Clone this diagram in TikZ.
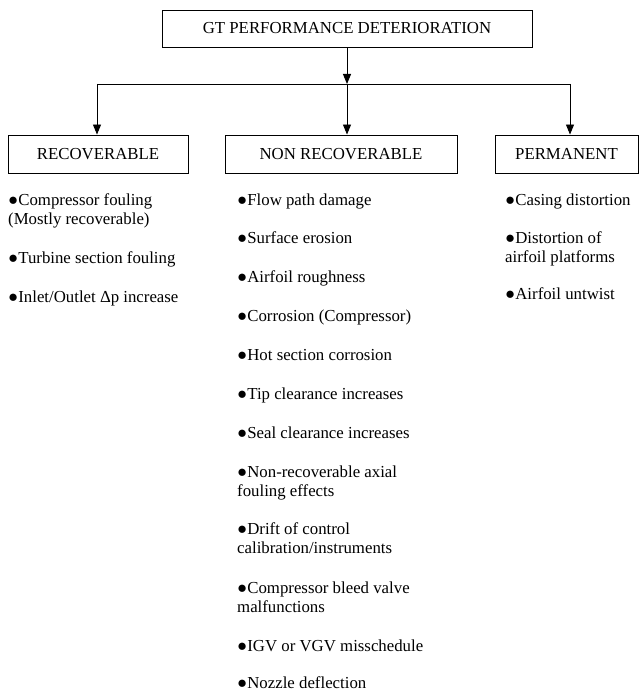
\documentclass[tikz,border=0pt]{standalone}
\usepackage{fontspec}
\setmainfont{Liberation Serif}
\usetikzlibrary{arrows.meta}
\newcommand\itm[4]{\node[item] (#1) at (#2,{#3-13.3}) {\strut●#4};}
\begin{document}
\begin{tikzpicture}[x=1pt,y=-1pt,
  box/.style={draw, line width=0.9pt, inner sep=0pt, font=\fontsize{16.8}{19}\selectfont},
  item/.style={anchor=north west, inner sep=0pt, align=left, font=\fontsize{16.8}{19}\selectfont},
  arr/.style={line width=0.9pt, -{Triangle[length=10pt,width=8pt]}},
  ln/.style={line width=0.9pt}]
\useasboundingbox (0,0) rectangle (640,692);
% boxes
\node[box, minimum width=370pt, minimum height=37pt] (top) at (347,28.5) {GT PERFORMANCE DETERIORATION};
\node[box, minimum width=180pt, minimum height=38pt] (rec) at (98,154) {RECOVERABLE};
\node[box, minimum width=232pt, minimum height=38pt] (non) at (341,154) {NON RECOVERABLE};
\node[box, minimum width=143pt, minimum height=38pt] (perm) at (566.5,154) {PERMANENT};
% connectors
\coordinate (hl) at (97,84);
\coordinate (hm) at (347,84);
\coordinate (hr) at (570,84);
\draw[arr] (top.south) -- (hm);
\draw[ln] (hl) -- (hr);
\draw[arr] (hl) -- (hl |- rec.north);
\draw[arr] (hm) -- (hm |- non.north);
\draw[arr] (hr) -- (hr |- perm.north);
% left column
\itm{l1}{8}{205}{Compressor fouling\\(Mostly recoverable)}
\itm{l2}{8}{263}{Turbine section fouling}
\itm{l3}{8}{302}{Inlet/Outlet Δp increase}
% middle column
\itm{m1}{237}{205}{Flow path damage}
\itm{m2}{237}{243}{Surface erosion}
\itm{m3}{237}{282}{Airfoil roughness}
\itm{m4}{237}{321}{Corrosion (Compressor)}
\itm{m5}{237}{360}{Hot section corrosion}
\itm{m6}{237}{399}{Tip clearance increases}
\itm{m7}{237}{438}{Seal clearance increases}
\itm{m8}{237}{477}{Non-recoverable axial\\fouling effects}
\itm{m9}{237}{534}{Drift of control\\calibration/instruments}
\itm{m10}{237}{593}{Compressor bleed valve\\malfunctions}
\itm{m11}{237}{651}{IGV or VGV misschedule}
\itm{m12}{237}{688}{Nozzle deflection}
% right column
\itm{r1}{505}{205}{Casing distortion}
\itm{r2}{505}{243}{Distortion of\\airfoil platforms}
\itm{r3}{505}{299}{Airfoil untwist}
\end{tikzpicture}
\end{document}
